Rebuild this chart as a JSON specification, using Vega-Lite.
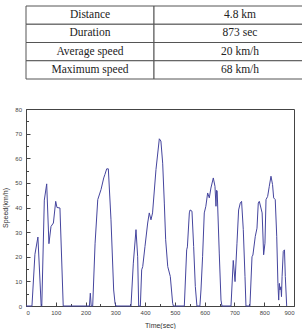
{
  "$schema": "https://vega.github.io/schema/vega-lite/v6.json",
  "padding": {"left": 1, "top": 5, "right": 1, "bottom": 0},
  "background": "white",
  "config": {"view": {"stroke": null}},
  "datasets": {
    "summary": [
      {"row": 1, "item": "Distance", "value": "4.8 km"},
      {"row": 2, "item": "Duration", "value": "873 sec"},
      {"row": 3, "item": "Average speed", "value": "20 km/h"},
      {"row": 4, "item": "Maximum speed", "value": "68 km/h"}
    ],
    "speed": [
      {"t": 0, "v": 0}, {"t": 20, "v": 0}, {"t": 30, "v": 21}, {"t": 40, "v": 28}, {"t": 51, "v": 0}, {"t": 53, "v": 0},
      {"t": 61.5, "v": 43}, {"t": 69.5, "v": 49.6}, {"t": 77, "v": 25.3}, {"t": 84, "v": 32.3}, {"t": 92, "v": 33.7},
      {"t": 99.7, "v": 42.5}, {"t": 104, "v": 40}, {"t": 114, "v": 39.8}, {"t": 125, "v": 0}, {"t": 213, "v": 0},
      {"t": 216, "v": 5.2}, {"t": 219, "v": 0}, {"t": 224, "v": 0}, {"t": 232, "v": 25.5}, {"t": 241, "v": 43.2},
      {"t": 252, "v": 47.3}, {"t": 261, "v": 52}, {"t": 265, "v": 53.4}, {"t": 271, "v": 55.7}, {"t": 276.5, "v": 55.7},
      {"t": 285.4, "v": 35}, {"t": 294.4, "v": 6.5}, {"t": 299, "v": 1.1}, {"t": 302, "v": 0}, {"t": 352.6, "v": 0},
      {"t": 360.4, "v": 17.4}, {"t": 369.4, "v": 31}, {"t": 375, "v": 20}, {"t": 378.4, "v": 0}, {"t": 384, "v": 0},
      {"t": 388.5, "v": 14.7}, {"t": 392, "v": 16}, {"t": 399.6, "v": 24.2}, {"t": 408.6, "v": 33.7}, {"t": 414, "v": 37.8},
      {"t": 419.7, "v": 35}, {"t": 425, "v": 37.8}, {"t": 436.5, "v": 55.4}, {"t": 447.7, "v": 67.9}, {"t": 453, "v": 67},
      {"t": 459, "v": 58}, {"t": 464.5, "v": 41.8}, {"t": 469, "v": 26.9}, {"t": 476, "v": 16}, {"t": 484.6, "v": 12},
      {"t": 492.5, "v": 1.1}, {"t": 495, "v": 0}, {"t": 531.7, "v": 0}, {"t": 539.6, "v": 22.8}, {"t": 542, "v": 24},
      {"t": 548.5, "v": 37.8}, {"t": 551, "v": 39}, {"t": 557.4, "v": 38.5}, {"t": 563, "v": 24.2}, {"t": 568.6, "v": 7.9},
      {"t": 574, "v": 0}, {"t": 584, "v": 0}, {"t": 587.6, "v": 6.5}, {"t": 593, "v": 20}, {"t": 598.7, "v": 37.8},
      {"t": 604, "v": 40.5}, {"t": 610, "v": 45.9}, {"t": 615.6, "v": 43.9}, {"t": 621, "v": 47.9}, {"t": 629, "v": 52},
      {"t": 634.6, "v": 48.6}, {"t": 638, "v": 40.5}, {"t": 640, "v": 47}, {"t": 642, "v": 46.7}, {"t": 649, "v": 21.5},
      {"t": 654.8, "v": 2.4}, {"t": 658, "v": 0}, {"t": 688.4, "v": 0}, {"t": 696, "v": 18.5}, {"t": 702, "v": 9.9},
      {"t": 708.5, "v": 25.5}, {"t": 714, "v": 39}, {"t": 719.6, "v": 41.8}, {"t": 724, "v": 42.5}, {"t": 729.7, "v": 31},
      {"t": 735.4, "v": 12}, {"t": 738.7, "v": 0}, {"t": 752, "v": 0}, {"t": 759, "v": 20}, {"t": 762, "v": 20.7},
      {"t": 770, "v": 28.3}, {"t": 775.7, "v": 31.6}, {"t": 780, "v": 41.8}, {"t": 783.5, "v": 42.5}, {"t": 789, "v": 39.8},
      {"t": 793, "v": 37.8}, {"t": 798, "v": 20.8}, {"t": 802.5, "v": 25.5}, {"t": 806, "v": 43.2}, {"t": 811.5, "v": 44.5},
      {"t": 817, "v": 48.6}, {"t": 822.7, "v": 52.7}, {"t": 828, "v": 49.3}, {"t": 831.7, "v": 43.9}, {"t": 837, "v": 43.2},
      {"t": 842, "v": 28.3}, {"t": 846, "v": 9.2}, {"t": 848.6, "v": 2.4}, {"t": 850.7, "v": 9.2}, {"t": 853, "v": 6.5},
      {"t": 856, "v": 7.8}, {"t": 858, "v": 3.8}, {"t": 860, "v": 12}, {"t": 864, "v": 22.2}, {"t": 868, "v": 22.8},
      {"t": 870.8, "v": 12}, {"t": 875.4, "v": 0}
    ]
  },
  "spacing": 25,
  "vconcat": [
    {
      "spacing": 0,
      "bounds": "flush",
      "hconcat": [
        {
          "width": 128, "height": 73,
          "data": {"name": "summary"},
          "encoding": {
            "x": {"datum": "c", "type": "nominal", "scale": {"paddingInner": 0, "paddingOuter": 0}, "axis": null},
            "y": {"field": "row", "type": "ordinal", "scale": {"paddingInner": 0, "paddingOuter": 0}, "axis": null}
          },
          "layer": [
            {"mark": {"type": "rect", "fill": "white", "stroke": "#555", "strokeWidth": 1}},
            {"mark": {"type": "text", "font": "Liberation Serif", "fontSize": 11.5, "color": "#222"},
             "encoding": {"text": {"field": "item"}}}
          ]
        },
        {
          "width": 172, "height": 73,
          "data": {"name": "summary"},
          "encoding": {
            "x": {"datum": "c", "type": "nominal", "scale": {"paddingInner": 0, "paddingOuter": 0}, "axis": null},
            "y": {"field": "row", "type": "ordinal", "scale": {"paddingInner": 0, "paddingOuter": 0}, "axis": null}
          },
          "layer": [
            {"mark": {"type": "rect", "fill": "white", "stroke": "#555", "strokeWidth": 1}},
            {"mark": {"type": "text", "font": "Liberation Serif", "fontSize": 11.5, "color": "#222"},
             "encoding": {"text": {"field": "value"}}}
          ]
        }
      ]
    },
    {
      "width": 268, "height": 197,
      "view": {"stroke": "#444", "strokeWidth": 1},
      "data": {"name": "speed"},
      "layer": [
        {
          "mark": {"type": "point", "opacity": 0},
          "encoding": {
            "x": {"field": "t", "type": "quantitative", "scale": {"domain": [0, 900], "nice": false},
                  "axis": {"orient": "bottom", "values": [50,150,250,350,450,550,650,750,850], "labels": false, "domain": false, "grid": false,
                           "tickSize": -2.5, "tickColor": "#444", "title": null}},
            "y": {"field": "v", "type": "quantitative", "scale": {"domain": [0, 80], "nice": false},
                  "axis": {"orient": "left", "values": [5,15,25,35,45,55,65,75], "labels": false, "domain": false, "grid": false,
                           "tickSize": -2.5, "tickColor": "#444", "title": null}}
          }
        },
        {
          "mark": {"type": "line", "color": "#45459e", "strokeWidth": 1, "interpolate": "linear"},
          "encoding": {
            "x": {"field": "t", "type": "quantitative", "scale": {"domain": [0, 900], "nice": false},
                  "axis": {"orient": "bottom", "values": [0,100,200,300,400,500,600,700,800,900], "grid": false,
                           "tickSize": -4, "tickColor": "#444", "domainColor": "#444", "labelPadding": 7,
                           "labelFont": "Liberation Sans", "labelFontSize": 6, "labelColor": "#444",
                           "title": "Time(sec)", "titleFont": "Liberation Sans", "titleFontSize": 7, "titleFontWeight": "normal",
                           "titleColor": "#333", "titlePadding": 6}},
            "y": {"field": "v", "type": "quantitative", "scale": {"domain": [0, 80], "nice": false},
                  "axis": {"orient": "left", "values": [0,10,20,30,40,50,60,70,80], "grid": false,
                           "tickSize": -4, "tickColor": "#444", "domainColor": "#444", "labelPadding": 8.5,
                           "labelFont": "Liberation Sans", "labelFontSize": 6, "labelColor": "#444",
                           "title": "Speed(km/h)", "titleFont": "Liberation Sans", "titleFontSize": 7, "titleFontWeight": "normal",
                           "titleColor": "#333", "titlePadding": 6}}
          }
        }
      ],
      "resolve": {"axis": {"x": "independent", "y": "independent"}}
    }
  ]
}
